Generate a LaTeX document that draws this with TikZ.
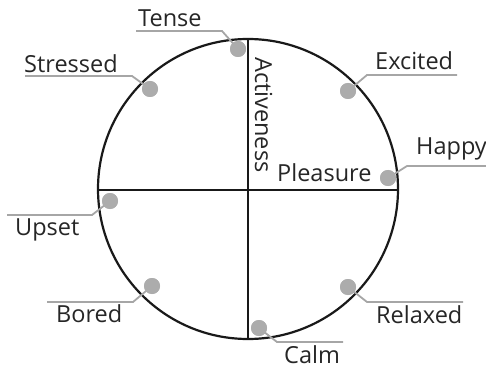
\documentclass[tikz,border=0pt]{standalone}
\usepackage{fontspec}
\setmainfont{Open Sans}
\begin{document}
\begin{tikzpicture}[x=1pt,y=-1pt,
  lbl/.style={anchor=base west,inner sep=0pt,text=black!85,font=\fontsize{23.5}{27}\selectfont},
  dotm/.style={circle,fill=gray!65,minimum size=16pt,inner sep=0pt},
  leader/.style={draw=gray!70,line width=1.8pt},
  axis/.style={draw=black!90,line width=1.6pt}]
\useasboundingbox (0,0) rectangle (486,371);
% circle and axes
\coordinate (C) at (248,189);
\draw[black!90,line width=2.2pt] (C) circle[radius=150];
\coordinate (Ltop) at (248,39);
\coordinate (Lbot) at (248,339);
\coordinate (Lleft) at (98,190);
\coordinate (Lright) at (398,190);
\draw[axis] (Ltop) -- (Lbot);
\draw[axis] (Lleft) -- (Lright);
\node[lbl,rotate=-90] (act) at (255,57) {Activeness};
\node[lbl] (ple) at (277,182) {Pleasure};
% dots
\node[dotm] (dT) at (238,49) {};
\node[dotm] (dS) at (150,89) {};
\node[dotm] (dE) at (348,91) {};
\node[dotm] (dH) at (388,178) {};
\node[dotm] (dU) at (110,201) {};
\node[dotm] (dB) at (152,286) {};
\node[dotm] (dR) at (348,287) {};
\node[dotm] (dC) at (259,328) {};
% elbows and ends
\coordinate (eT) at (222,31); \coordinate (fT) at (136,31);
\coordinate (eS) at (132,76); \coordinate (fS) at (25,76);
\coordinate (eE) at (367,75); \coordinate (fE) at (457,75);
\coordinate (eH) at (407,166); \coordinate (fH) at (486,166);
\coordinate (eU) at (92,215); \coordinate (fU) at (7,215);
\coordinate (eB) at (133,302); \coordinate (fB) at (47,302);
\coordinate (eR) at (367,302); \coordinate (fR) at (463,302);
\coordinate (eC) at (277,342); \coordinate (fC) at (343,342);
\foreach \k in {T,S,E,H,U,B,R,C}{
  \draw[leader] (d\k.center) -- (e\k) -- (f\k);
  \node[dotm] at (d\k) {};
}
% labels
\node[lbl] (tT) at (138,27) {Tense};
\node[lbl] (tS) at (24,73) {Stressed};
\node[lbl] (tE) at (375,70) {Excited};
\node[lbl] (tH) at (416,155) {Happy};
\node[lbl] (tU) at (15,235) {Upset};
\node[lbl] (tB) at (56,322) {Bored};
\node[lbl] (tR) at (376,323) {Relaxed};
\node[lbl] (tC) at (284,363) {Calm};
\end{tikzpicture}
\end{document}
